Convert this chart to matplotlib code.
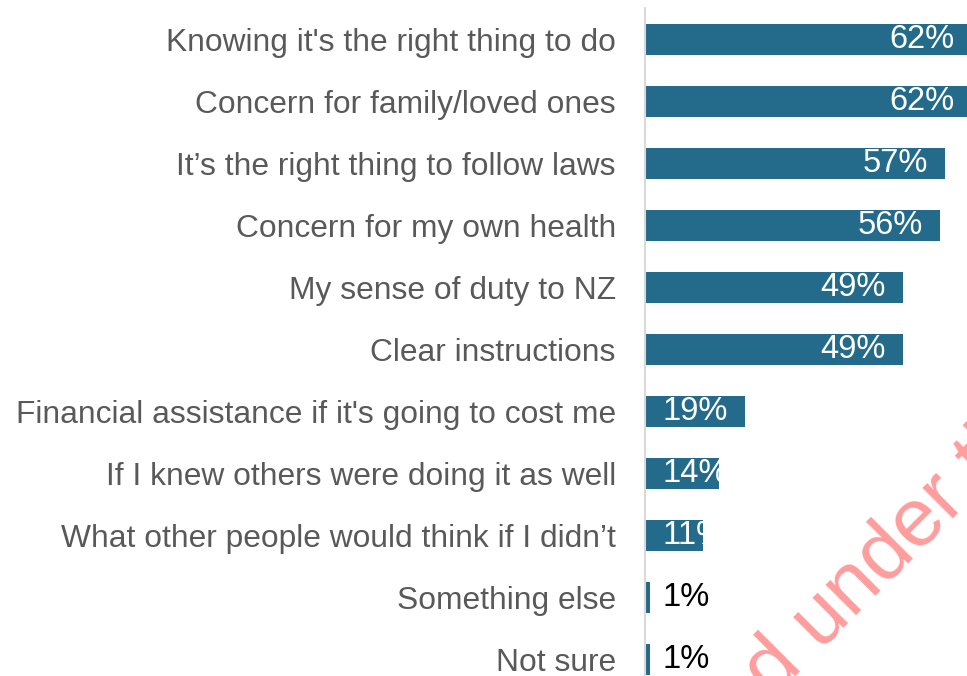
import matplotlib.pyplot as plt

labels = [
    "Knowing it's the right thing to do",
    "Concern for family/loved ones",
    "It\u2019s the right thing to follow laws",
    "Concern for my own health",
    "My sense of duty to NZ",
    "Clear instructions",
    "Financial assistance if it's going to cost me",
    "If I knew others were doing it as well",
    "What other people would think if I didn\u2019t",
    "Something else",
    "Not sure",
]
values = [62, 62, 57, 56, 49, 49, 19, 14, 11, 1, 1]

plt.rcParams["font.family"] = ["Liberation Sans", "DejaVu Sans"]

fig = plt.figure(figsize=(9.67, 6.76), dpi=100)
ax = fig.add_axes([645 / 967, 0, 322 / 967, 668 / 676])

pos = list(range(len(values)))
bars = ax.barh(pos, values, height=0.5, color="#236a8b", clip_on=True)

ax.set_xlim(0, 61.2)
ax.set_ylim(10.27, -0.5)

ax.set_yticks(pos)
ax.set_yticklabels(labels, fontsize=22.9, color="#595959")
ax.tick_params(axis="y", length=0, pad=21)
ax.set_xticks([])
for s in ["top", "right", "bottom"]:
    ax.spines[s].set_visible(False)
ax.spines["left"].set_color("#d9d9d9")
ax.spines["left"].set_linewidth(1.5)

for p, v in zip(pos, values):
    if v >= 17:
        ax.text(v - 3.2, p, f"{v}%", ha="right", va="center", fontsize=23.5,
                color="white", clip_on=True)
    elif v > 5:
        t = ax.text(3.4, p, f"{v}%", ha="left", va="center", fontsize=23.5,
                    color="white")
        t.set_clip_path(bars[p])
    else:
        ax.text(3.4, p, f"{v}%", ha="left", va="center", fontsize=23.5,
                color="black")

# watermark
fig.text(0.578, -0.350, "Released under the Official Information Act",
         rotation=45, rotation_mode="anchor", ha="left", va="baseline",
         fontsize=59, color="#ff9d9d")

fig.savefig("out.png", dpi=100)
